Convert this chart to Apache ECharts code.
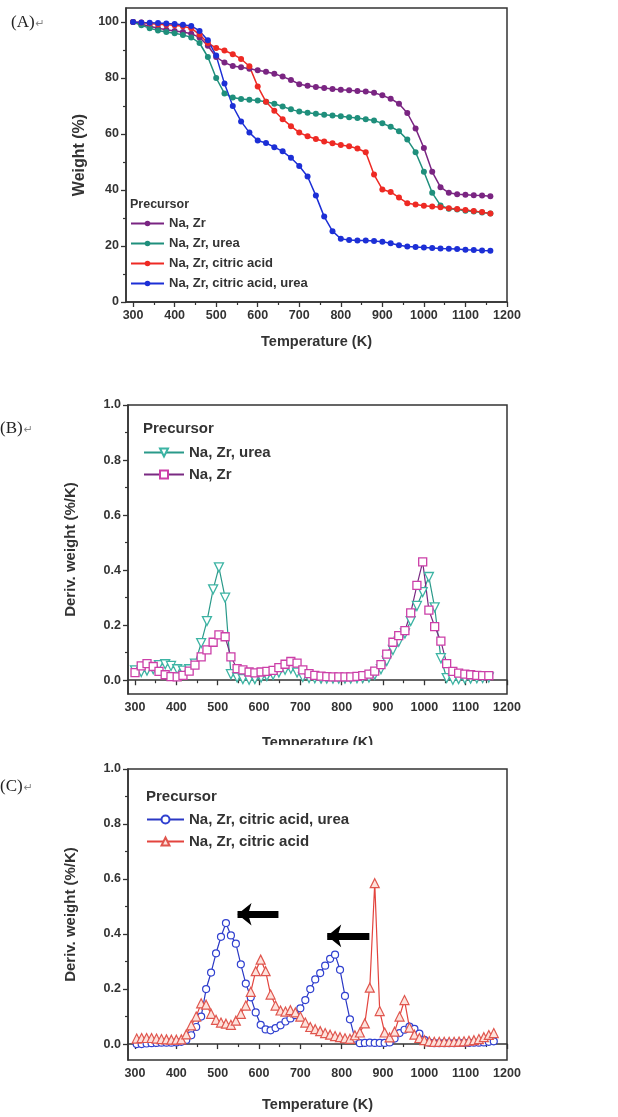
<!DOCTYPE html>
<html>
<head>
<meta charset="utf-8">
<title>TG / DTG</title>
<script src="https://cdn.jsdelivr.net/npm/echarts@6/dist/echarts.min.js"></script>
<style>
    html, body { margin: 0; padding: 0; background: #fff; }
    .panel { width: 618px; position: absolute; left: 0; }
    #chartA { top: 0; height: 370px; }
    #chartB { top: 370px; height: 375px; }
    #chartC { top: 745px; height: 372px; }
</style>
</head>
<body>
<div id="chartA" class="panel"></div>
<div id="chartB" class="panel"></div>
<div id="chartC" class="panel"></div>
<script>
// ---- (A) 失重曲线 ----
var tempA = [300, 320, 340, 360, 380, 400, 420, 440, 460, 480, 500, 520, 540, 560, 580, 600, 620, 640, 660, 680, 700, 720,
    740, 760, 780, 800, 820, 840, 860, 880, 900, 920, 940, 960, 980, 1000, 1020, 1040, 1060, 1080, 1100, 1120, 1140, 1160];
var wNaZr = [100, 99.2, 98.5, 97.8, 97.2, 96.8, 96.4, 95.8, 94.5, 91.5, 87.5, 85.5, 84.3, 83.8, 83.3, 82.8, 82.2, 81.5, 80.5, 79.3, 77.8, 77.2,
    76.8, 76.4, 76.1, 75.8, 75.6, 75.4, 75.2, 74.7, 73.8, 72.6, 70.8, 67.5, 62, 55, 46.5, 41, 39, 38.5, 38.3, 38.1, 38, 37.8];
var wUrea = [100, 98.8, 97.8, 97, 96.4, 96, 95.4, 94.5, 92.5, 87.5, 80, 74.5, 73, 72.5, 72.2, 72, 71.5, 70.8, 69.8, 68.8, 68, 67.6,
    67.2, 66.9, 66.6, 66.3, 66, 65.7, 65.3, 64.8, 63.8, 62.6, 61, 58, 53.5, 46.5, 39, 34.5, 33.3, 33, 32.6, 32.3, 32, 31.6];
var wCitric = [100, 99.8, 99.5, 99.2, 99, 98.8, 98.5, 97.8, 95.5, 92.5, 90.7, 89.8, 88.5, 86.8, 84.2, 77, 71.5, 68.3, 65.3, 62.8, 60.5, 59.2,
    58.2, 57.3, 56.7, 56.1, 55.6, 54.8, 53.5, 45.5, 40.2, 39.3, 37.3, 35.3, 34.8, 34.4, 34.1, 33.8, 33.5, 33.2, 32.9, 32.5, 32.1, 31.6];
var wCitricUrea = [100, 99.8, 99.7, 99.6, 99.5, 99.3, 99, 98.6, 96.8, 93.5, 88, 78, 70, 64.5, 60.5, 57.7, 56.8, 55.3, 53.8, 51.5, 48.6, 44.8,
    38, 30.5, 25.3, 22.6, 22.1, 22, 22, 21.8, 21.5, 21, 20.3, 19.8, 19.6, 19.5, 19.3, 19.1, 19, 18.9, 18.7, 18.6, 18.4, 18.3];

// ---- (B) DTG: Na,Zr / Na,Zr,urea ----
var tempB = [300, 315, 329, 344, 358, 373, 387, 402, 416, 431, 445, 460, 474, 489, 503, 518, 532, 547, 561, 576,
    590, 605, 619, 634, 648, 663, 677, 692, 706, 721, 735, 750, 764, 779, 793, 808, 822, 837, 851, 866,
    880, 895, 909, 924, 938, 953, 967, 982, 996, 1011, 1025, 1040, 1054, 1069, 1083, 1098, 1112, 1127, 1141, 1156];
var dNaZr = [0.028, 0.052, 0.06, 0.05, 0.032, 0.02, 0.013, 0.012, 0.018, 0.033, 0.055, 0.085, 0.11, 0.138, 0.165, 0.158, 0.085, 0.042, 0.038, 0.03,
    0.027, 0.03, 0.032, 0.036, 0.046, 0.058, 0.068, 0.062, 0.038, 0.024, 0.018, 0.015, 0.013, 0.012, 0.012, 0.012, 0.012, 0.014, 0.017, 0.022,
    0.033, 0.057, 0.095, 0.138, 0.162, 0.18, 0.245, 0.345, 0.43, 0.255, 0.195, 0.142, 0.06, 0.032, 0.026, 0.022, 0.02, 0.018, 0.017, 0.017];
var dUrea = [0.036, 0.03, 0.035, 0.04, 0.055, 0.058, 0.052, 0.04, 0.035, 0.04, 0.06, 0.135, 0.215, 0.33, 0.41, 0.3, 0.022, 0.01, 0.004, 0.002,
    0.004, 0.01, 0.015, 0.02, 0.028, 0.038, 0.042, 0.028, 0.012, 0.008, 0.007, 0.006, 0.006, 0.006, 0.006, 0.006, 0.006, 0.007, 0.008, 0.01,
    0.02, 0.04, 0.07, 0.11, 0.14, 0.17, 0.215, 0.27, 0.32, 0.375, 0.265, 0.08, 0.008, 0.002, 0.004, 0.005, 0.006, 0.007, 0.008, 0.01];

// ---- (C) DTG: Na,Zr,citric acid / + urea ----
var tempC = [304, 316, 328, 340, 352, 364, 376, 388, 400, 412, 424, 436, 448, 460, 472, 484, 496, 508, 520, 532,
    544, 556, 568, 580, 592, 604, 616, 628, 640, 652, 664, 676, 688, 700, 712, 724, 736, 748, 760, 772,
    784, 796, 808, 820, 832, 844, 856, 868, 880, 892, 904, 916, 928, 940, 952, 964, 976, 988, 1000, 1012,
    1024, 1036, 1048, 1060, 1072, 1084, 1096, 1108, 1120, 1132, 1144, 1156, 1168];
var dCitricUrea = [0, 0, 0.002, 0.003, 0.004, 0.005, 0.005, 0.005, 0.006, 0.008, 0.015, 0.032, 0.062, 0.1, 0.2, 0.26, 0.33, 0.39, 0.44, 0.395,
    0.365, 0.29, 0.22, 0.17, 0.115, 0.07, 0.053, 0.05, 0.058, 0.068, 0.082, 0.093, 0.105, 0.13, 0.16, 0.2, 0.235, 0.258, 0.285, 0.31,
    0.325, 0.27, 0.175, 0.09, 0.02, 0.003, 0.004, 0.005, 0.004, 0.004, 0.004, 0.006, 0.02, 0.04, 0.052, 0.063, 0.055, 0.038, 0.015, 0.005,
    0.003, 0.003, 0.003, 0.003, 0.003, 0.004, 0.004, 0.004, 0.005, 0.005, 0.006, 0.008, 0.01];
var dCitric = [0.02, 0.022, 0.022, 0.022, 0.02, 0.018, 0.017, 0.016, 0.016, 0.017, 0.035, 0.068, 0.1, 0.148, 0.143, 0.11, 0.088, 0.078, 0.074, 0.07,
    0.085, 0.11, 0.14, 0.19, 0.265, 0.307, 0.265, 0.18, 0.14, 0.122, 0.118, 0.123, 0.115, 0.1, 0.078, 0.062, 0.054, 0.047, 0.04, 0.034,
    0.029, 0.025, 0.021, 0.019, 0.032, 0.042, 0.075, 0.205, 0.585, 0.12, 0.042, 0.024, 0.045, 0.1, 0.16, 0.06, 0.034, 0.022, 0.014, 0.01,
    0.008, 0.008, 0.008, 0.008, 0.008, 0.009, 0.01, 0.012, 0.014, 0.018, 0.025, 0.033, 0.04];
// 箭头: [起点温度, 终点温度, 高度]
var arrowsC = [[647, 548, 0.472], [867, 765, 0.393]];

// 刻度
var xMajor = [300, 400, 500, 600, 700, 800, 900, 1000, 1100, 1200];
var xMinor = [350, 450, 550, 650, 750, 850, 950, 1050, 1150];
var yMajorA = [0, 20, 40, 60, 80, 100];
var yMinorA = [10, 30, 50, 70, 90];
var yMajorD = [0, 0.2, 0.4, 0.6, 0.8, 1.0];
var yMinorD = [0.1, 0.3, 0.5, 0.7, 0.9];

var FONT = '"Liberation Sans", Arial, sans-serif';
var AXIS_COLOR = '#333';

function pairs(xs, ys) {
    return xs.map(function (x, i) { return [x, ys[i]]; });
}

// 主轴 + 次刻度轴
function buildAxes(c) {
    var xAxis = [
        {
            type: 'value', min: 283, max: 1200, position: 'bottom',
            axisLine: {show: true, lineStyle: {color: AXIS_COLOR, width: 1.5}},
            axisTick: {show: true, length: 5, customValues: xMajor, lineStyle: {color: AXIS_COLOR, width: 1.3}},
            axisLabel: {
                customValues: xMajor, margin: 7, color: '#333', fontSize: 12.5, fontWeight: 'bold', fontFamily: FONT,
                formatter: function (v) { return String(v); }
            },
            splitLine: {show: false},
            name: 'Temperature (K)', nameLocation: 'middle', nameGap: c.xNameGap,
            nameTextStyle: {color: '#333', fontSize: 14.5, fontWeight: 'bold', fontFamily: FONT}
        },
        {
            type: 'value', min: 283, max: 1200, position: 'bottom',
            axisLine: {show: false},
            axisTick: {show: true, length: 3, customValues: xMinor, lineStyle: {color: AXIS_COLOR, width: 1.2}},
            axisLabel: {show: false},
            splitLine: {show: false}
        }
    ];
    var yAxis = [
        {
            type: 'value', min: c.yMin, max: c.yMax, position: 'left',
            axisLine: {show: true, lineStyle: {color: AXIS_COLOR, width: 1.5}},
            axisTick: {show: true, length: 5, customValues: c.yMajor, lineStyle: {color: AXIS_COLOR, width: 1.3}},
            axisLabel: {
                customValues: c.yMajor, margin: 7, color: '#333', fontSize: 12.5, fontWeight: 'bold', fontFamily: FONT,
                formatter: c.yFmt
            },
            splitLine: {show: false},
            name: c.yName, nameLocation: 'middle', nameGap: c.yNameGap,
            nameTextStyle: {color: '#333', fontSize: c.yNameSize, fontWeight: 'bold', fontFamily: FONT}
        },
        {
            type: 'value', min: c.yMin, max: c.yMax, position: 'left',
            axisLine: {show: false},
            axisTick: {show: true, length: 3, customValues: c.yMinor, lineStyle: {color: AXIS_COLOR, width: 1.2}},
            axisLabel: {show: false},
            splitLine: {show: false}
        }
    ];
    return {xAxis: xAxis, yAxis: yAxis};
}

function panelLabel(txt, x, y) {
    return {
        type: 'text', left: x, top: y,
        style: {
            text: '{a|' + txt + '}{b|↵}',
            rich: {
                a: {fontSize: 17, fontFamily: '"Liberation Serif", "DejaVu Serif", serif', fill: '#222'},
                b: {fontSize: 11, fontFamily: '"DejaVu Sans", sans-serif', fill: '#888', padding: [4, 0, 0, 1]}
            }
        }
    };
}

function precursorTitle(x, y, size) {
    return {
        type: 'text', left: x, top: y,
        style: {text: 'Precursor', fontSize: size, fontWeight: 'bold', fontFamily: FONT, fill: '#333'}
    };
}

function lineSeries(name, data, color, symbol, size, extra) {
    var s = {
        type: 'line', name: name, data: data,
        xAxisIndex: 0, yAxisIndex: 0,
        symbol: symbol, symbolSize: size,
        lineStyle: {color: color.line, width: color.width || 1.3},
        itemStyle: {color: color.fill, borderColor: color.border, borderWidth: color.bw || 0},
        emphasis: {disabled: true},
        animation: false
    };
    for (var k in extra) { s[k] = extra[k]; }
    return s;
}

// ---------- 图 A ----------
var axA = buildAxes({
    xNameGap: 32, yMin: 0, yMax: 105, yMajor: yMajorA, yMinor: yMinorA,
    yName: 'Weight (%)', yNameGap: 38, yNameSize: 16,
    yFmt: function (v) { return String(v); }
});
var chartA = echarts.init(document.getElementById('chartA'));
chartA.setOption({
    animation: false,
    grid: {
        left: 126, top: 8, width: 381, height: 294, outerBoundsMode: 'none',
        show: true, borderColor: AXIS_COLOR, borderWidth: 1.5
    },
    xAxis: axA.xAxis,
    yAxis: axA.yAxis,
    legend: {
        orient: 'vertical', left: 125, top: 212, itemWidth: 33, itemHeight: 7, itemGap: 7,
        textStyle: {fontSize: 13, fontWeight: 'bold', color: '#333', fontFamily: FONT},
        data: ['Na, Zr', 'Na, Zr, urea', 'Na, Zr, citric acid', 'Na, Zr, citric acid, urea']
    },
    graphic: [panelLabel('(A)', 11, 14), precursorTitle(130, 198, 12.5)],
    series: [
        lineSeries('Na, Zr', pairs(tempA, wNaZr), {line: '#7a2582', fill: '#7a2582', width: 1.5}, 'circle', 6),
        lineSeries('Na, Zr, urea', pairs(tempA, wUrea), {line: '#1f8f7c', fill: '#1f8f7c', width: 1.5}, 'circle', 6),
        lineSeries('Na, Zr, citric acid', pairs(tempA, wCitric), {line: '#ee2a24', fill: '#ee2a24', width: 1.5}, 'circle', 6),
        lineSeries('Na, Zr, citric acid, urea', pairs(tempA, wCitricUrea), {line: '#1c2fd6', fill: '#1c2fd6', width: 1.5}, 'circle', 6)
    ]
});

// ---------- 图 B ----------
var axB = buildAxes({
    xNameGap: 41, yMin: -0.05, yMax: 1.0, yMajor: yMajorD, yMinor: yMinorD,
    yName: 'Deriv. weight (%/K)', yNameGap: 50, yNameSize: 15,
    yFmt: function (v) { return v.toFixed(1); }
});
var chartB = echarts.init(document.getElementById('chartB'));
chartB.setOption({
    animation: false,
    grid: {
        left: 128, top: 35, width: 379, height: 289, outerBoundsMode: 'none',
        show: true, borderColor: AXIS_COLOR, borderWidth: 1.5
    },
    xAxis: axB.xAxis,
    yAxis: axB.yAxis,
    legend: {
        orient: 'vertical', left: 138, top: 70, itemWidth: 40, itemHeight: 10, itemGap: 7,
        textStyle: {fontSize: 15, fontWeight: 'bold', color: '#333', fontFamily: FONT},
        data: ['Na, Zr, urea', 'Na, Zr']
    },
    graphic: [panelLabel('(B)', 0, 50), precursorTitle(143, 51, 15)],
    series: [
        lineSeries('Na, Zr, urea', pairs(tempB, dUrea),
            {line: '#2a9a8a', fill: '#ffffff', border: '#3cb4a4', bw: 1.3, width: 1.2}, 'triangle', 9,
            {symbolRotate: 180}),
        lineSeries('Na, Zr', pairs(tempB, dNaZr),
            {line: '#7a2a82', fill: '#ffffff', border: '#cc3fa8', bw: 1.3, width: 1.2}, 'rect', 8)
    ]
});

// ---------- 图 C ----------
var axC = buildAxes({
    xNameGap: 37, yMin: -0.058, yMax: 1.0, yMajor: yMajorD, yMinor: yMinorD,
    yName: 'Deriv. weight (%/K)', yNameGap: 50, yNameSize: 15,
    yFmt: function (v) { return v.toFixed(1); }
});
var chartC = echarts.init(document.getElementById('chartC'));
chartC.setOption({
    animation: false,
    grid: {
        left: 128, top: 24, width: 379, height: 291, outerBoundsMode: 'none',
        show: true, borderColor: AXIS_COLOR, borderWidth: 1.5
    },
    xAxis: axC.xAxis,
    yAxis: axC.yAxis,
    legend: {
        orient: 'vertical', left: 141, top: 62, itemWidth: 37, itemHeight: 10, itemGap: 7,
        textStyle: {fontSize: 15, fontWeight: 'bold', color: '#333', fontFamily: FONT},
        data: ['Na, Zr, citric acid, urea', 'Na, Zr, citric acid']
    },
    graphic: [panelLabel('(C)', 0, 33), precursorTitle(146, 44, 15)],
    series: [
        lineSeries('Na, Zr, citric acid, urea', pairs(tempC, dCitricUrea),
            {line: '#2b38c4', fill: '#ffffff', border: '#3040d0', bw: 1.2, width: 1.2}, 'circle', 7),
        lineSeries('Na, Zr, citric acid', pairs(tempC, dCitric),
            {line: '#e3443e', fill: '#fde2dc', border: '#e0564e', bw: 1.2, width: 1.2}, 'triangle', 9,
            {
                markLine: {
                    silent: true,
                    symbol: ['none', 'arrow'],
                    symbolSize: [17, 14],
                    label: {show: false},
                    emphasis: {disabled: true},
                    lineStyle: {color: '#000', width: 7, type: 'solid'},
                    data: arrowsC.map(function (a) {
                        return [{coord: [a[0], a[2]]}, {coord: [a[1], a[2]]}];
                    })
                }
            })
    ]
});
</script>
</body>
</html>
